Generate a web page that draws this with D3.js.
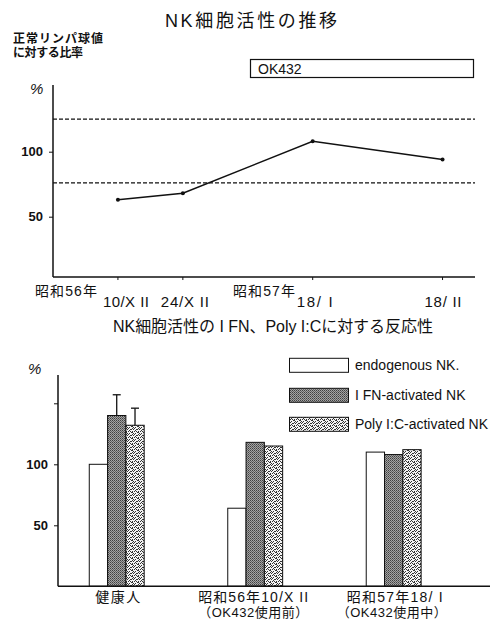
<!DOCTYPE html>
<html><head><meta charset="utf-8">
<script src="https://cdn.jsdelivr.net/npm/d3@7"></script>
<style>
html,body{margin:0;padding:0;background:#fff;}
text{font-family:"Liberation Sans","Noto Sans CJK JP",sans-serif;fill:#111;}
</style></head>
<body>
<svg id="c" width="490" height="619"></svg>
<script>
// ---- Top chart data ----
const lineLabels = ["10/X II", "24/X II", "18/ I", "18/ II"];
const linePos = [1, 2, 4, 6];          // relative spacing on the time axis
const lineValues = [63, 68, 108, 94];
const normalRange = [76, 125];
const topYTicks = [50, 100];
const eraLabels = ["昭和56年", "昭和57年"];

// ---- Bottom chart data ----
const groups = ["健康人", "昭和56年10/X II", "昭和57年18/ I"];
const groupSub = ["", "（OK432使用前）", "（OK432使用中）"];
const seriesNames = ["endogenous  NK.", "I FN-activated  NK", "Poly I:C-activated  NK"];
const endogenous = [100, 64, 110];
const ifnActivated = [140, 118, 108];
const polyActivated = [132, 115, 112];
const errTop = [[null, null, null], [157, null, null], [146, null, null]]; // per series, per group
const bottomYTicks = [50, 100, 150];

const svg = d3.select("#c");
const defs = svg.append("defs");

// dark hatched pattern
const pd = defs.append("pattern").attr("id","dark").attr("patternUnits","userSpaceOnUse")
  .attr("width",2).attr("height",2);
pd.append("rect").attr("width",2).attr("height",2).attr("fill","#a4a4a4");
pd.append("rect").attr("x",0).attr("y",0).attr("width",1).attr("height",1).attr("fill","#404040");
pd.append("rect").attr("x",1).attr("y",1).attr("width",1).attr("height",1).attr("fill","#626262");
// dotted speckle pattern
const pp = defs.append("pattern").attr("id","dots").attr("patternUnits","userSpaceOnUse")
  .attr("width",6).attr("height",6);
pp.append("rect").attr("width",6).attr("height",6).attr("fill","#f4f4f4");
[[0,0],[3,1],[5,3],[1,3],[4,5],[2,5],[5,0],[2,2],[0,5],[4,3],[1,1],[3,4],[0,2]].forEach(d=>{
  pp.append("rect").attr("x",d[0]).attr("y",d[1]).attr("width",1).attr("height",1).attr("fill","#333");
});

function txt(x, y, s, size, opts){
  opts = opts || {};
  const t = svg.append("text").attr("x",x).attr("y",y).style("font-size",size+"px").text(s);
  if(opts.anchor) t.attr("text-anchor",opts.anchor);
  if(opts.len) t.attr("textLength",opts.len).attr("lengthAdjust","spacing");
  if(opts.bold) t.style("font-weight","bold");
  if(opts.italic) t.style("font-style","italic");
  return t;
}

// ================= TOP CHART =================
txt(251, 27, "NK細胞活性の推移", 18, {anchor:"middle", len:172});
txt(13, 43, "正常リンパ球値", 12, {bold:true, len:90});
txt(13, 57, "に対する比率", 12, {bold:true, len:70});
txt(30, 94, "%", 15, {italic:true});

// OK432 box
svg.append("rect").attr("x",250.5).attr("y",59.5).attr("width",223).attr("height",18)
  .attr("fill","none").attr("stroke","#111").attr("stroke-width",1.2);
txt(258, 74, "OK432", 14);

const x1 = d3.scaleLinear().domain([0, 6.5]).range([53, 475]);
const y1 = d3.scaleLinear().domain([0, 150]).range([281.7, 86.7]);
const base1 = y1(3.6);

// axes
svg.append("line").attr("x1",53).attr("x2",53).attr("y1",85).attr("y2",base1).attr("stroke","#111").attr("stroke-width",1.5);
svg.append("line").attr("x1",53).attr("x2",475).attr("y1",base1).attr("y2",base1).attr("stroke","#111").attr("stroke-width",1.5);
const yAx1 = svg.append("g").attr("transform","translate(53,0)")
  .call(d3.axisLeft(y1).tickValues(topYTicks).tickSize(4).tickPadding(6));
yAx1.select(".domain").remove();
yAx1.selectAll("text").style("font-size","13px").style("font-weight","bold").attr("fill","#111");
yAx1.selectAll("line").attr("stroke","#111");

// x ticks
linePos.forEach(p=>{
  svg.append("line").attr("x1",x1(p)).attr("x2",x1(p)).attr("y1",base1).attr("y2",base1+3).attr("stroke","#111");
});
// x labels
const lxOff = [8, 2, 2, 0.5];
const lxLen = [46, 48, 36, 37];
linePos.forEach((p,i)=>{
  txt(x1(p)+lxOff[i], 307, lineLabels[i], 15, {anchor:"middle", len:lxLen[i]});
});
txt(35, 296, eraLabels[0], 14, {len:62});
txt(233, 296, eraLabels[1], 14, {len:62});

// normal range dashed
normalRange.forEach(v=>{
  svg.append("line").attr("x1",53).attr("x2",475).attr("y1",y1(v)).attr("y2",y1(v))
    .attr("stroke","#111").attr("stroke-width",1.3).attr("stroke-dasharray","4,2");
});
// line
const pts = linePos.map((p,i)=>[x1(p), y1(lineValues[i])]);
svg.append("path").attr("d", d3.line()(pts)).attr("fill","none").attr("stroke","#111").attr("stroke-width",1.5);
svg.selectAll(".pt").data(pts).enter().append("circle").attr("cx",d=>d[0]).attr("cy",d=>d[1]).attr("r",2).attr("fill","#111");

// ================= BOTTOM CHART =================
txt(273, 332, "NK細胞活性の I FN、Poly I:Cに対する反応性", 16, {anchor:"middle", len:320});
txt(28, 374, "%", 15, {italic:true});

const x2 = d3.scalePoint().domain(groups).range([58, 452.4]).padding(0.424);
const y2 = d3.scaleLinear().domain([0, 150]).range([586.3, 403.3]);
const bw = 18.3;

svg.append("line").attr("x1",58).attr("x2",58).attr("y1",375).attr("y2",y2(0)).attr("stroke","#111").attr("stroke-width",1.5);
const yAx2 = svg.append("g").attr("transform","translate(58,0)")
  .call(d3.axisLeft(y2).tickValues(bottomYTicks).tickSize(4).tickPadding(6).tickFormat(d=>d===150?"":d));
yAx2.select(".domain").remove();
yAx2.selectAll("text").style("font-size","13px").style("font-weight","bold").attr("fill","#111");
yAx2.selectAll("line").attr("stroke","#111");

const series = [
  {vals: endogenous, fill: "#fff"},
  {vals: ifnActivated, fill: "url(#dark)"},
  {vals: polyActivated, fill: "url(#dots)"}
];
groups.forEach((g,gi)=>{
  series.forEach((s,si)=>{
    const xl = x2(g) + (si-1.5)*bw;
    svg.append("rect").attr("x",xl).attr("y",y2(s.vals[gi])).attr("width",bw)
      .attr("height",y2(0)-y2(s.vals[gi])).attr("fill",s.fill).attr("stroke","#111").attr("stroke-width",1);
  });
});
// error bars
errTop.forEach((arr,si)=>{
  arr.forEach((v,gi)=>{
    if(v==null) return;
    const cx = x2(groups[gi]) + (si-1.5)*bw + bw/2;
    const top = series[si].vals[gi];
    svg.append("line").attr("x1",cx).attr("x2",cx).attr("y1",y2(top)).attr("y2",y2(v)).attr("stroke","#111").attr("stroke-width",1.3);
    svg.append("line").attr("x1",cx-4).attr("x2",cx+4).attr("y1",y2(v)).attr("y2",y2(v)).attr("stroke","#111").attr("stroke-width",1.3);
  });
});
svg.append("line").attr("x1",58).attr("x2",490).attr("y1",y2(0)).attr("y2",y2(0)).attr("stroke","#111").attr("stroke-width",1.5);

// group labels
const gOff = [1, -2, 1];
const gLen = [45, 110, 96];
groups.forEach((g,gi)=>{
  txt(x2(g)+gOff[gi], 602, g, 14, {anchor:"middle", len:gLen[gi]});
  if(groupSub[gi]) txt(x2(g)+gOff[gi]-(gi===2?3:0), 617, groupSub[gi], 13, {anchor:"middle", len:110});
});

// legend
const legY = [358.3, 388.3, 417.3];
const legFill = ["#fff","url(#dark)","url(#dots)"];
seriesNames.forEach((n,i)=>{
  svg.append("rect").attr("x",289.5).attr("y",legY[i]).attr("width",59).attr("height",14)
    .attr("fill",legFill[i]).attr("stroke","#111").attr("stroke-width",1);
  txt(355, legY[i]+12, n, 14);
});
</script>
</body></html>
